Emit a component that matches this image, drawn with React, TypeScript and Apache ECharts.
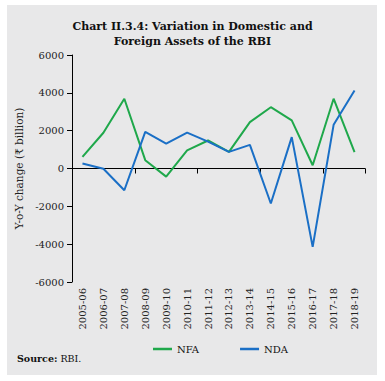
import React, { useEffect, useRef } from "react";
import * as echarts from "echarts";

const categories = [
  "2005-06", "2006-07", "2007-08", "2008-09", "2009-10", "2010-11", "2011-12",
  "2012-13", "2013-14", "2014-15", "2015-16", "2016-17", "2017-18", "2018-19",
];
const nfa = [610, 1890, 3690, 440, -430, 960, 1480, 880, 2450, 3240, 2540, 170, 3690, 860];
const nda = [260, -10, -1150, 1940, 1320, 1900, 1420, 880, 1250, -1850, 1660, -4140, 2310, 4120];
const yTicks = { min: -6000, max: 6000, interval: 2000 };

const FONT = "DejaVu Serif";
const GREEN = "#1fa84b";
const BLUE = "#1a6fc6";

export default function App() {
  const ref = useRef<HTMLDivElement>(null);
  useEffect(() => {
    const chart = echarts.init(ref.current!, null, { renderer: "svg" });
    chart.setOption({
      animation: false,
      backgroundColor: "#ffffff",
      graphic: [
        { type: "rect", z: -10, shape: { x: 7, y: 5, width: 370, height: 370 }, style: { fill: "#e8e8e9" } },
        {
          type: "text",
          left: 17,
          top: 353,
          style: {
            text: "{b|Source:} RBI.",
            rich: {
              b: { fontFamily: FONT, fontWeight: "bold", fontSize: 9.5, fill: "#111" },
            },
            fontFamily: FONT,
            fontSize: 9.5,
            fill: "#111",
          },
        },
      ],
      title: {
        text: "Chart II.3.4: Variation in Domestic and\nForeign Assets of the RBI",
        left: "center",
        top: 14,
        textStyle: { fontFamily: FONT, fontWeight: "bold", fontSize: 11, color: "#111", lineHeight: 15 },
      },
      legend: {
        left: 148,
        top: 339,
        itemWidth: 19,
        itemHeight: 2.5,
        itemGap: 41,
        icon: "rect",
        textStyle: { fontFamily: FONT, fontSize: 10, color: "#111" },
        data: ["NFA", "NDA"],
      },
      grid: { left: 72, right: 20, top: 55, bottom: 99 },
      xAxis: [
        {
          type: "category",
          data: categories,
          axisLine: { show: false, onZero: false },
          axisTick: { show: false },
          axisLabel: { rotate: 90, margin: 6, fontFamily: FONT, fontSize: 10, color: "#222" },
        },
        {
          type: "category",
          data: categories,
          position: "bottom",
          axisLine: { show: true, onZero: true, lineStyle: { color: "#000", width: 1 } },
          axisTick: { show: true, length: 5, lineStyle: { color: "#000" } },
          axisLabel: { show: false },
        },
      ],
      yAxis: {
        type: "value",
        min: yTicks.min,
        max: yTicks.max,
        interval: yTicks.interval,
        name: "Y-o-Y change (₹ billion)",
        nameLocation: "middle",
        nameGap: 44,
        nameTextStyle: { fontFamily: FONT, fontSize: 10.5, color: "#222" },
        axisLine: { show: true, lineStyle: { color: "#000" } },
        axisTick: { show: true, length: 5, lineStyle: { color: "#000" } },
        axisLabel: { margin: 8, fontFamily: FONT, fontSize: 10, color: "#222", formatter: (v: number) => String(v) },
        splitLine: { show: false },
      },
      series: [
        {
          name: "NFA",
          type: "line",
          xAxisIndex: 0,
          data: nfa,
          symbol: "none",
          lineStyle: { color: GREEN, width: 2 },
          itemStyle: { color: GREEN },
        },
        {
          name: "NDA",
          type: "line",
          xAxisIndex: 0,
          data: nda,
          symbol: "none",
          lineStyle: { color: BLUE, width: 2 },
          itemStyle: { color: BLUE },
        },
      ],
    });
    return () => chart.dispose();
  }, []);
  return (
    <div
      ref={ref}
      style={{ position: "fixed", left: 0, top: 0, width: 385, height: 381 }}
    />
  );
}
